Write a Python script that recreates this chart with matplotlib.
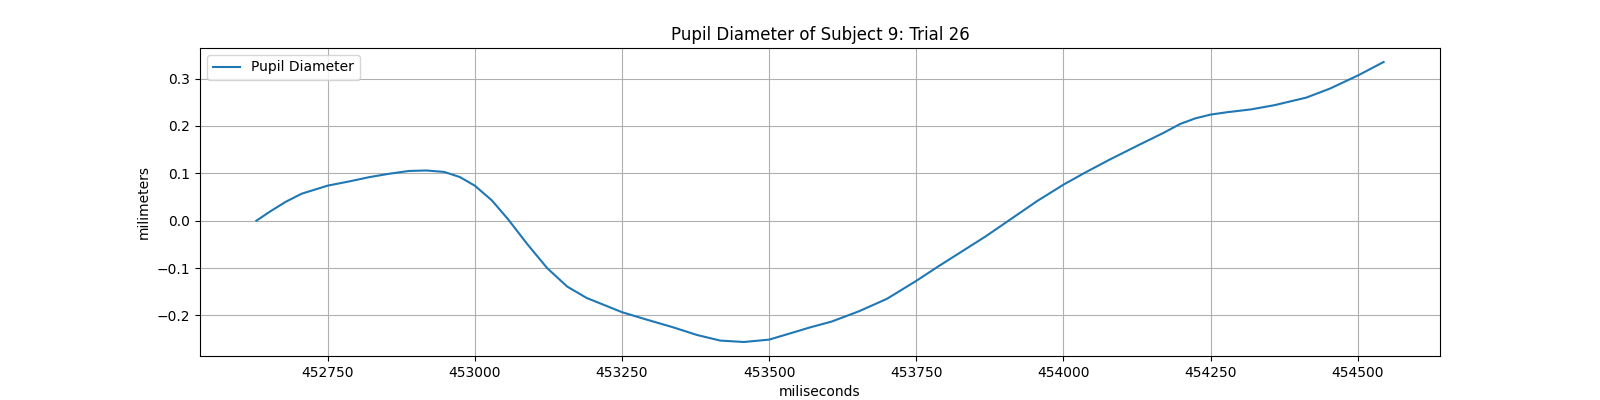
import numpy as np
import matplotlib.pyplot as plt

# time stamps (ms) and pupil diameter change (mm)
times = [452629, 452653, 452679, 452706, 452750, 452787, 452821, 452854,
         452888, 452918, 452948, 452975, 453000, 453029, 453056, 453089,
         453123, 453157, 453190, 453224, 453250, 453290, 453337, 453377,
         453417, 453457, 453500, 453538, 453570, 453606, 453653, 453700,
         453750, 453788, 453835, 453868, 453902, 453929, 453956, 454000,
         454036, 454077, 454130, 454171, 454198, 454224, 454250, 454278,
         454319, 454359, 454413, 454453, 454501, 454544]
diameter = [0.000, 0.020, 0.040, 0.057, 0.074, 0.083, 0.092, 0.099,
            0.105, 0.106, 0.103, 0.092, 0.074, 0.043, 0.004, -0.049,
            -0.100, -0.139, -0.163, -0.180, -0.193, -0.208, -0.225, -0.241,
            -0.253, -0.256, -0.251, -0.237, -0.225, -0.213, -0.191, -0.165,
            -0.127, -0.096, -0.059, -0.033, -0.004, 0.019, 0.042, 0.076,
            0.101, 0.128, 0.161, 0.186, 0.204, 0.216, 0.224, 0.229,
            0.235, 0.244, 0.260, 0.279, 0.307, 0.335]

fig, ax = plt.subplots(figsize=(16, 4), dpi=100)
ax.plot(times, diameter, label='Pupil Diameter')
ax.set_title('Pupil Diameter of Subject 9: Trial 26')
ax.set_xlabel('miliseconds')
ax.set_ylabel('milimeters')
ax.grid(True)
ax.legend(loc='upper left')
fig.savefig('out.png')
